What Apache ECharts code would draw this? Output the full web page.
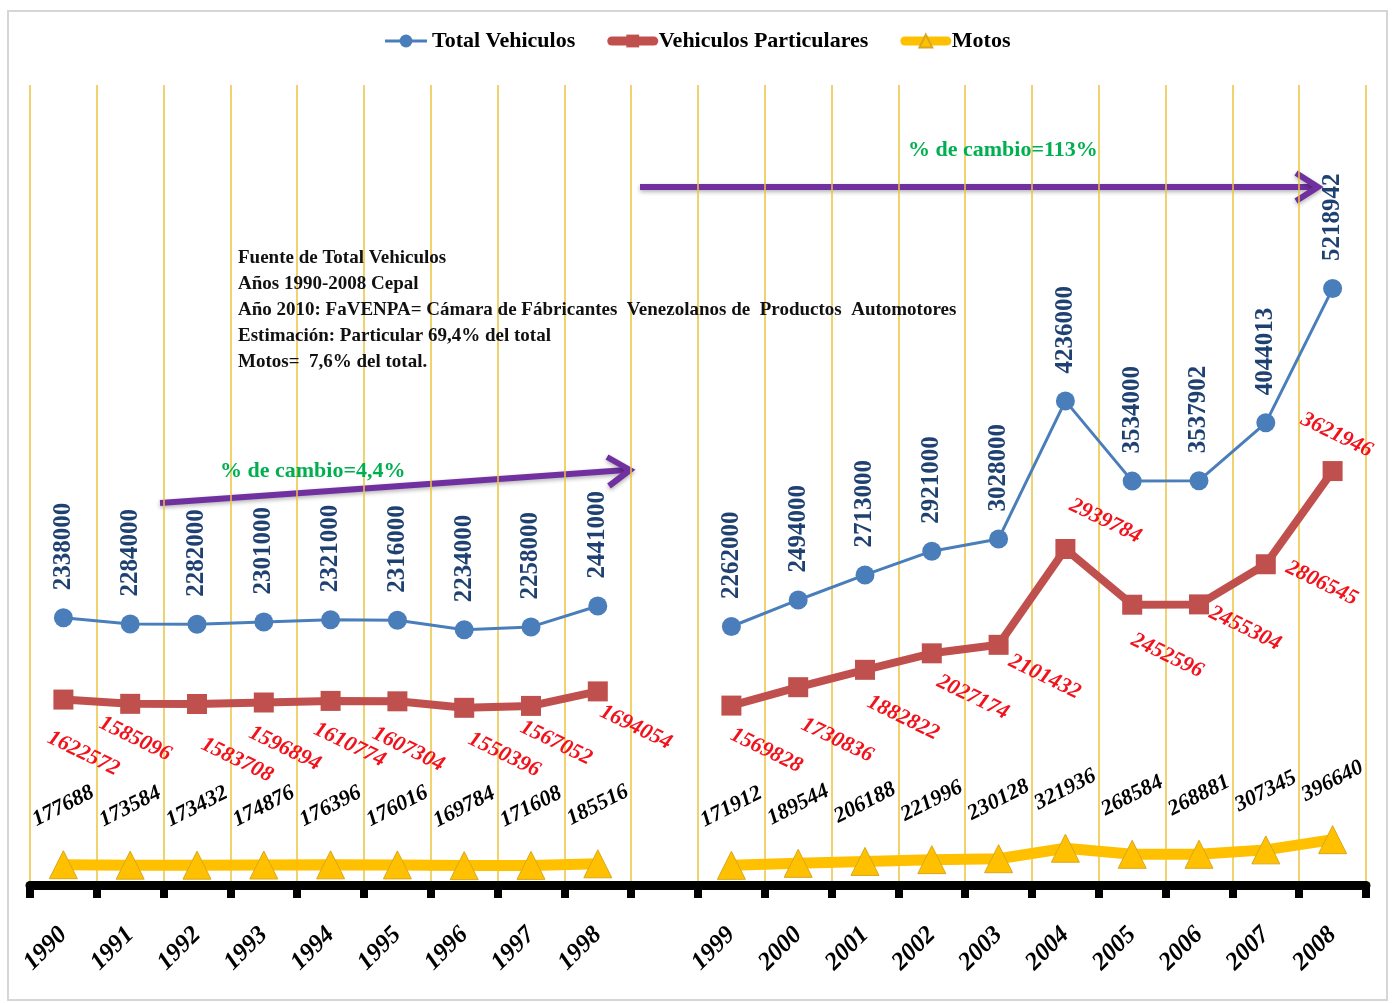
<!DOCTYPE html>
<html>
<head>
<meta charset="utf-8">
<title>Parque automotor 1990-2008</title>
<script src="https://cdn.jsdelivr.net/npm/echarts@6/dist/echarts.min.js"></script>
<style>
  html, body { margin: 0; padding: 0; background: #fff; }
  #chart { width: 1394px; height: 1003px; }
</style>
</head>
<body>
<div id="chart"></div>
<script>
// Years on the category axis; the empty slot separates the two periods
const years = ['1990','1991','1992','1993','1994','1995','1996','1997','1998','',
               '1999','2000','2001','2002','2003','2004','2005','2006','2007','2008'];

const totalVehiculos = [2338000, 2284000, 2282000, 2301000, 2321000, 2316000, 2234000, 2258000, 2441000, null,
                        2262000, 2494000, 2713000, 2921000, 3028000, 4236000, 3534000, 3537902, 4044013, 5218942];

const vehiculosParticulares = [1622572, 1585096, 1583708, 1596894, 1610774, 1607304, 1550396, 1567052, 1694054, null,
                               1569828, 1730836, 1882822, 2027174, 2101432, 2939784, 2452596, 2455304, 2806545, 3621946];

const motos = [177688, 173584, 173432, 174876, 176396, 176016, 169784, 171608, 185516, null,
               171912, 189544, 206188, 221996, 230128, 321936, 268584, 268881, 307345, 396640];

// Where each "particulares" label sits relative to its marker (px)
const particularLabelShift = [
  [20, 54], [5, 35], [40, 56], [21, 46], [19, 44], [11, 48], [40, 47], [25, 37], [38, 36], [0, 0],
  [35, 45], [39, 53], [38, 48], [41, 44], [46, 32], [40, -28], [35, 51], [46, 24], [56, 19], [4, -36]
];

const SERIF = 'Liberation Serif';
const RED_SYMBOL = 20;
const BLUE = '#4A7EBB', RED = '#C0504D', GOLD = '#FFC000';

function toSeriesData(arr) {
  return arr.map(v => (v == null ? '-' : v));
}

const chart = echarts.init(document.getElementById('chart'), null, { renderer: 'canvas' });

const option = {
  backgroundColor: '#ffffff',
  animation: false,
  legend: {
    top: 25,
    left: 'center',
    itemWidth: 42,
    itemHeight: 16,
    itemGap: 32,
    textStyle: { fontFamily: SERIF, fontWeight: 'bold', fontSize: 22, color: '#000' },
    data: [
      { name: 'Total Vehiculos', lineStyle: { width: 3 } },
      { name: 'Vehiculos Particulares', lineStyle: { width: 9, cap: 'round' } },
      { name: 'Motos', lineStyle: { width: 9, cap: 'round' } }
    ]
  },
  grid: { left: 30, right: 28, top: 85, bottom: 118, containLabel: false },
  xAxis: {
    type: 'category',
    data: years,
    boundaryGap: true,
    axisLine: { show: true, lineStyle: { color: '#000', width: 9 } },
    axisTick: { show: true, interval: 0, length: 13, lineStyle: { color: '#000', width: 8 } },
    axisLabel: {
      interval: 0, rotate: 45, margin: 46,
      fontFamily: SERIF, fontWeight: 'bold', fontStyle: 'italic', fontSize: 25, color: '#000',
      padding: [0, 0, 0, 0]
    },
    splitLine: { show: true, interval: 0, lineStyle: { color: '#EBC53F', width: 1.5 } }
  },
  yAxis: {
    type: 'value', min: 0, max: 7000000, show: false,
    splitLine: { show: false }
  },
  series: [
    {
      name: 'Total Vehiculos',
      type: 'line',
      data: toSeriesData(totalVehiculos),
      symbol: 'circle', symbolSize: 19,
      color: BLUE,
      lineStyle: { width: 3, color: BLUE },
      itemStyle: { color: BLUE },
      z: 4,
      label: {
        show: true, position: 'top', distance: 18, rotate: 90,
        align: 'left', verticalAlign: 'middle',
        fontFamily: SERIF, fontWeight: 'bold', fontSize: 25, color: '#1F4172'
      }
    },
    {
      name: 'Vehiculos Particulares',
      type: 'line',
      data: vehiculosParticulares.map((v, i) => v == null ? '-' : {
        value: v,
        label: { position: [RED_SYMBOL / 2 + particularLabelShift[i][0], RED_SYMBOL / 2 + particularLabelShift[i][1]] }
      }),
      symbol: 'rect', symbolSize: RED_SYMBOL,
      color: RED,
      lineStyle: { width: 8, color: RED },
      itemStyle: { color: RED },
      z: 3,
      label: {
        show: true, rotate: -26, align: 'center', verticalAlign: 'middle',
        fontFamily: SERIF, fontWeight: 'bold', fontStyle: 'italic', fontSize: 22, color: '#F2121C'
      }
    },
    {
      name: 'Motos',
      type: 'line',
      data: toSeriesData(motos),
      symbol: 'triangle', symbolSize: 28,
      color: GOLD,
      lineStyle: { width: 11, color: GOLD },
      itemStyle: { color: GOLD, borderColor: '#D7A81E', borderWidth: 1 },
      z: 2,
      label: {
        show: true, position: 'top', distance: 44, rotate: 27,
        align: 'center', verticalAlign: 'middle',
        fontFamily: SERIF, fontWeight: 'bold', fontStyle: 'italic', fontSize: 22, color: '#000'
      }
    }
  ],
  graphic: [
    // outer frame
    {
      type: 'rect', z: 0, silent: true,
      shape: { x: 8, y: 11, width: 1379, height: 989 },
      style: { fill: 'none', stroke: '#D6D6D6', lineWidth: 2 }
    },
    // source note
    {
      type: 'text', z: 10, left: 238, top: 245,
      style: {
        text: 'Fuente de Total Vehiculos\nAños 1990-2008 Cepal\nAño 2010: FaVENPA= Cámara de Fábricantes  Venezolanos de  Productos  Automotores\nEstimación: Particular 69,4% del total\nMotos=  7,6% del total.',
        fontFamily: SERIF, fontWeight: 'bold', fontSize: 19, lineHeight: 26, fill: '#111'
      }
    },
    // change annotations
    {
      type: 'text', z: 10, x: 220, y: 471,
      style: { text: '% de cambio=4,4%', fontFamily: SERIF, fontWeight: 'bold', fontSize: 22, fill: '#00B050', verticalAlign: 'middle' }
    },
    {
      type: 'text', z: 10, x: 908, y: 150,
      style: { text: '% de cambio=113%', fontFamily: SERIF, fontWeight: 'bold', fontSize: 22, fill: '#00B050', verticalAlign: 'middle' }
    },
    // arrow 1990s
    {
      type: 'group', z: 10,
      children: [
        {
          type: 'line', shape: { x1: 160, y1: 503, x2: 626, y2: 470 },
          style: { stroke: '#7030A0', lineWidth: 6, shadowBlur: 4, shadowOffsetY: 2, shadowColor: 'rgba(0,0,0,0.3)' }
        },
        {
          type: 'polyline', shape: { points: [[607, 457], [630, 470], [609, 486]] },
          style: { stroke: '#7030A0', lineWidth: 6, fill: 'none', lineJoin: 'miter', shadowBlur: 4, shadowOffsetY: 2, shadowColor: 'rgba(0,0,0,0.3)' }
        }
      ]
    },
    // arrow 2000s
    {
      type: 'group', z: 10,
      children: [
        {
          type: 'line', shape: { x1: 640, y1: 187, x2: 1314, y2: 187 },
          style: { stroke: '#7030A0', lineWidth: 6, shadowBlur: 4, shadowOffsetY: 2, shadowColor: 'rgba(0,0,0,0.3)' }
        },
        {
          type: 'polyline', shape: { points: [[1296, 173], [1318, 187], [1296, 201]] },
          style: { stroke: '#7030A0', lineWidth: 6, fill: 'none', lineJoin: 'miter', shadowBlur: 4, shadowOffsetY: 2, shadowColor: 'rgba(0,0,0,0.3)' }
        }
      ]
    }
  ]
};

chart.setOption(option);
</script>
</body>
</html>
